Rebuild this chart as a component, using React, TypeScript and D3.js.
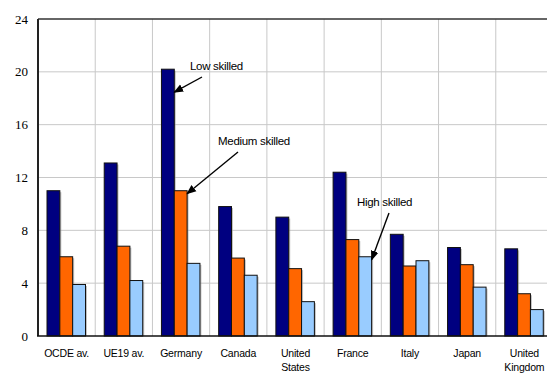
import React from "react";
import * as d3 from "d3";

const categories = [
  ["OCDE av."],
  ["UE19 av."],
  ["Germany"],
  ["Canada"],
  ["United", "States"],
  ["France"],
  ["Italy"],
  ["Japan"],
  ["United", "Kingdom"],
];
const seriesNames = ["Low skilled", "Medium skilled", "High skilled"];
const lowSkilled = [11.0, 13.1, 20.2, 9.8, 9.0, 12.4, 7.7, 6.7, 6.6];
const mediumSkilled = [6.0, 6.8, 11.0, 5.9, 5.1, 7.3, 5.3, 5.4, 3.2];
const highSkilled = [3.9, 4.2, 5.5, 4.6, 2.6, 6.0, 5.7, 3.7, 2.0];
const yTicks = [0, 4, 8, 12, 16, 20, 24];
const colors = ["#000080", "#FF6600", "#99CCFF"];

// annotations: label, series index, category index
const annotations = [
  { series: 0, cat: 2, tx: 190, ty: 70, sx: 202, sy: 77, dy: 23 },
  { series: 1, cat: 2, tx: 218, ty: 145, sx: 238, sy: 152, dy: 3 },
  { series: 2, cat: 5, tx: 357, ty: 206, sx: 389, sy: 213, dy: 3 },
];

const W = 547;
const H = 373;
const left = 38;
const top = 19;
const bottom = 336;
const right = 553;

export default function App() {
  const series = [lowSkilled, mediumSkilled, highSkilled];
  const x = d3
    .scaleBand<number>()
    .domain(d3.range(categories.length))
    .range([left, right])
    .paddingInner(0)
    .paddingOuter(0);
  const inner = d3
    .scaleBand<number>()
    .domain([0, 1, 2])
    .range([9, 47.5])
    .paddingOuter(0)
    .paddingInner(0);
  const y = d3.scaleLinear().domain([0, 24]).range([bottom, top]);

  return (
    <svg
      width={W}
      height={H}
      style={{ position: "fixed", left: 0, top: 0, background: "#fff" }}
    >
      <defs>
        <marker
          id="arr"
          viewBox="0 0 10 10"
          refX="9"
          refY="5"
          markerWidth="7"
          markerHeight="7"
          orient="auto-start-reverse"
        >
          <path d="M0,1 L10,5 L0,9 z" fill="#000" />
        </marker>
      </defs>
      {yTicks
        .filter((t) => t > 0 && t < 24)
        .map((t) => (
          <line
            key={"h" + t}
            x1={left}
            x2={W}
            y1={y(t)}
            y2={y(t)}
            stroke="#c8c8c8"
            strokeWidth={1}
          />
        ))}
      {d3.range(1, categories.length).map((i) => (
        <line
          key={"v" + i}
          x1={x(i)!}
          x2={x(i)!}
          y1={top}
          y2={bottom}
          stroke="#c8c8c8"
          strokeWidth={1}
        />
      ))}
      {categories.map((_, ci) =>
        series.map((s, si) => {
          const bx = x(ci)! + inner(si)!;
          const bw = inner.bandwidth();
          const by = y(s[ci]);
          const bh = bottom - by;
          return (
            <g key={ci + "-" + si}>
              <rect
                x={bx + 1.5}
                y={by + 1.5}
                width={bw}
                height={bh - 1.5}
                fill="#999"
                opacity={0.6}
              />
              <rect
                x={bx}
                y={by}
                width={bw}
                height={bh}
                fill={colors[si]}
                stroke="#111"
                strokeWidth={1}
              />
            </g>
          );
        })
      )}
      <line x1={left} x2={W} y1={top} y2={top} stroke="#333" strokeWidth={1.5} />
      <line x1={left} x2={left} y1={top} y2={bottom} stroke="#222" strokeWidth={2} />
      <line x1={left - 1} x2={W} y1={bottom} y2={bottom} stroke="#111" strokeWidth={1.5} />
      {yTicks.map((t) => (
        <text
          key={"yt" + t}
          x={28}
          y={y(t)}
          dy="0.35em"
          textAnchor="end"
          fontFamily="'Liberation Serif', 'Times New Roman', serif"
          fontSize={13}
          fill="#000"
        >
          {t}
        </text>
      ))}
      {categories.map((lines, ci) => (
        <text
          key={"xl" + ci}
          x={x(ci)! + x.bandwidth() / 2}
          y={357}
          textAnchor="middle"
          fontFamily="'Liberation Sans', Arial, sans-serif"
          fontSize={10.5}
          letterSpacing={-0.2}
          fill="#000"
        >
          {lines.map((l, li) => (
            <tspan key={li} x={x(ci)! + x.bandwidth() / 2} dy={li === 0 ? 0 : 13.5}>
              {l}
            </tspan>
          ))}
        </text>
      ))}
      {annotations.map((a, i) => {
        const s = series[a.series];
        const ex = x(a.cat)! + inner(a.series)! + inner.bandwidth();
        const ey = y(s[a.cat]) + a.dy;
        return (
          <g key={"an" + i}>
            <text
              x={a.tx}
              y={a.ty}
              fontFamily="'Liberation Sans', Arial, sans-serif"
              fontSize={11.5}
              letterSpacing={-0.3}
              fill="#000"
            >
              {seriesNames[a.series]}
            </text>
            <line
              x1={a.sx}
              y1={a.sy}
              x2={ex}
              y2={ey}
              stroke="#000"
              strokeWidth={1.4}
              markerEnd="url(#arr)"
            />
          </g>
        );
      })}
    </svg>
  );
}
